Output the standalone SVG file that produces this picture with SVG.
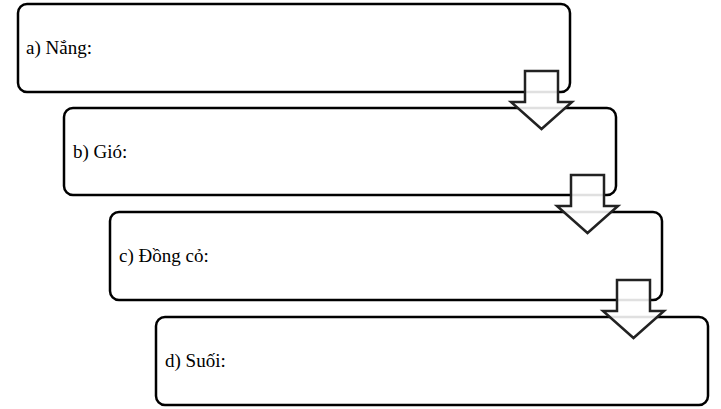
<svg xmlns="http://www.w3.org/2000/svg" width="721" height="409" viewBox="0 0 721 409">
<style>
.box{fill:#fff;stroke:#000;stroke-width:2.5}
.arr{fill:#fff;fill-opacity:0.88;stroke:#222;stroke-width:2.5;stroke-linejoin:miter}
.t{font-family:'Liberation Serif','Times New Roman','DejaVu Serif',serif;font-size:19px;fill:#000}
</style>
<defs><path id="a" d="M0,0 H33 V31 H47 L16.5,58 L-14,31 H0 Z"/></defs>
<g id="n1"><rect class="box" x="18" y="4" width="552" height="88" rx="9"/><text class="t" x="26" y="54">a) Nắng:</text></g>
<g id="n2"><rect class="box" x="64" y="108" width="552" height="87" rx="9"/><text class="t" x="73" y="158">b) Gió:</text></g>
<g id="n3"><rect class="box" x="110" y="212" width="552" height="88" rx="9"/><text class="t" x="119" y="262">c) Đồng cỏ:</text></g>
<g id="n4"><rect class="box" x="156" y="317" width="552" height="88" rx="9"/><text class="t" x="165" y="367">d) Suối:</text></g>
<g id="connectors">
<use class="arr" href="#a" x="525" y="71"/>
<use class="arr" href="#a" x="571" y="175"/>
<use class="arr" href="#a" x="617" y="280"/>
</g>
</svg>
